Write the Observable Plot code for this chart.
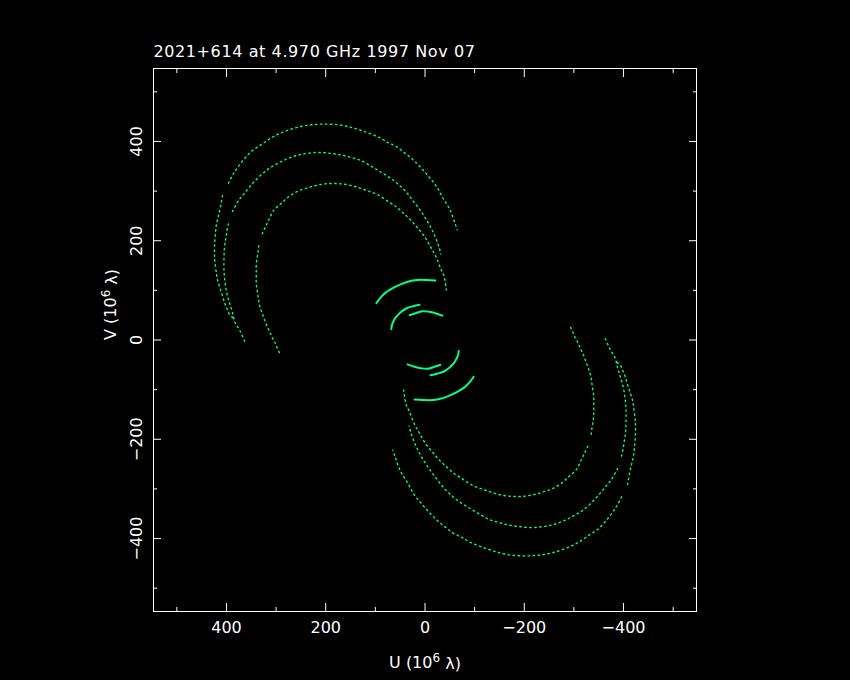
<!DOCTYPE html>
<html><head><meta charset="utf-8">
<script src="https://cdn.jsdelivr.net/npm/d3@7"></script>
<script src="https://cdn.jsdelivr.net/npm/@observablehq/plot@0.6"></script>
<style>
html,body{margin:0;padding:0;background:#000;}
#chart{width:850px;height:680px;}
</style></head><body><div id="chart"></div>
<script>
const title = "2021+614 at 4.970 GHz 1997 Nov 07";
const xLabel = "U (10\u2076 \u03bb)";
const yLabel = "V (10\u2076 \u03bb)";
const majorTicks = [-400, -200, 0, 200, 400];
const minorTicks = [-500, -300, -100, 100, 300, 500];
const axisLimit = 547;

// uv tracks (10^6 wavelengths), one half; the conjugate half is (-u, -v)
const arcOuterU = [396, 386, 372, 352, 328, 305, 278, 251, 224, 197, 170, 144, 117, 90, 75, 58, 41, 25, 9, -6, -22, -35, -50, -60, -65];
const arcOuterV = [316, 335, 355, 378, 395, 410, 422, 430, 434, 435, 433, 427, 418, 407, 398, 390, 377, 364, 348, 331, 311, 288, 263, 236, 222];

const arcMiddleU = [388, 375, 365, 345, 318, 298, 278, 258, 238, 214, 191, 170, 150, 130, 110, 90, 68, 51, 36, 23, 8, -6, -18, -28, -32];
const arcMiddleV = [259, 282, 294, 318, 343, 355, 365, 372, 376, 378, 376, 373, 368, 362, 351, 339, 325, 311, 296, 279, 259, 237, 214, 188, 173];

const arcInnerU = [328, 322, 315, 305, 291, 278, 258, 238, 217, 197, 177, 157, 137, 117, 96, 71, 56, 43, 29, 16, 2, -11, -22, -32, -38, -43];
const arcInnerV = [214, 227, 241, 261, 274, 286, 299, 306, 312, 315, 315, 313, 308, 301, 293, 277, 267, 255, 242, 227, 210, 188, 168, 143, 130, 101];

const leftOuterU = [408, 412, 416, 420, 422, 424, 424, 423, 420, 418, 414, 408, 403, 399, 394, 386];
const leftOuterV = [291, 269, 251, 234, 217, 190, 170, 156, 133, 121, 108, 89, 73, 63, 52, 44];

const leftMiddleU = [396, 399, 402, 404, 405, 405, 404, 401, 398, 395, 392, 388, 383, 373, 362];
const leftMiddleV = [234, 220, 200, 187, 163, 140, 126, 103, 89, 79, 69, 56, 36, 19, -6];

const leftInnerU = [335, 336, 338, 340, 340, 340, 340, 338, 336, 334, 330, 325, 320, 314, 308, 301, 297, 291];
const leftInnerV = [190, 180, 167, 153, 140, 126, 113, 99, 86, 73, 59, 46, 32, 19, 5, -8, -18, -30];

const coreOuterU = [98, 90, 80, 66, 49, 33, 16, -4, -21];
const coreOuterV = [74, 85, 95, 104, 112, 118, 121, 121, 120];

const coreMiddleU = [68, 66, 60, 49, 37, 24, 11];
const coreMiddleV = [22, 32, 44, 56, 64, 68, 71];

const coreInnerU = [31, 19, 6, -8, -21, -35];
const coreInnerV = [50, 54, 58, 57, 54, 49];

const tracks = [
  {name: "arcOuter", u: arcOuterU, v: arcOuterV, solid: false},
  {name: "arcMiddle", u: arcMiddleU, v: arcMiddleV, solid: false},
  {name: "arcInner", u: arcInnerU, v: arcInnerV, solid: false},
  {name: "leftOuter", u: leftOuterU, v: leftOuterV, solid: false},
  {name: "leftMiddle", u: leftMiddleU, v: leftMiddleV, solid: false},
  {name: "leftInner", u: leftInnerU, v: leftInnerV, solid: false},
  {name: "coreOuter", u: coreOuterU, v: coreOuterV, solid: true},
  {name: "coreMiddle", u: coreMiddleU, v: coreMiddleV, solid: true},
  {name: "coreInner", u: coreInnerU, v: coreInnerV, solid: true}
];

const rows = [];
for (const t of tracks) {
  for (const s of [1, -1]) {
    t.u.forEach((u, i) => rows.push({u: s * u, v: s * t.v[i], id: t.name + s, solid: t.solid}));
  }
}

const green = "#00ff80";
const tickAxes = [];
for (const [ticks, size] of [[majorTicks, -8], [minorTicks, -4]]) {
  tickAxes.push(Plot.axisX(ticks, {anchor: "bottom", tickSize: size, fill: "none", label: null}));
  tickAxes.push(Plot.axisX(ticks, {anchor: "top", tickSize: size, fill: "none", label: null}));
  tickAxes.push(Plot.axisY(ticks, {anchor: "left", tickSize: size, fill: "none", label: null}));
  tickAxes.push(Plot.axisY(ticks, {anchor: "right", tickSize: size, fill: "none", label: null}));
}

const chart = Plot.plot({
  width: 850, height: 680,
  marginLeft: 153, marginRight: 154, marginTop: 68, marginBottom: 69,
  style: {background: "#000", color: "#fff", fontFamily: "'DejaVu Sans ExtraLight', 'DejaVu Sans'", fontSize: "16px"},
  x: {domain: [axisLimit, -axisLimit]},
  y: {domain: [-axisLimit, axisLimit]},
  marks: [
    Plot.line(rows.filter(d => !d.solid), {x: "u", y: "v", z: "id", curve: "catmull-rom", stroke: green, strokeWidth: 1.4, strokeDasharray: "1.4,3.6"}),
    Plot.line(rows.filter(d => d.solid), {x: "u", y: "v", z: "id", curve: "catmull-rom", stroke: green, strokeWidth: 2}),
    Plot.frame({stroke: "#fff"}),
    ...tickAxes,
    Plot.axisX(majorTicks, {anchor: "bottom", tickSize: 0, tickPadding: 10, label: null, fontSize: 16}),
    Plot.axisY(majorTicks, {anchor: "left", tickSize: 0, tickPadding: 12, tickRotate: -90, label: null, fontSize: 16}),
    Plot.text([xLabel], {text: d => d, frameAnchor: "bottom", dy: 56, lineAnchor: "bottom", fill: "#fff", fontSize: 16}),
    Plot.text([yLabel], {text: d => d, frameAnchor: "left", dx: -38, rotate: -90, lineAnchor: "bottom", fill: "#fff", fontSize: 16}),
    Plot.text([title], {text: d => d, frameAnchor: "top-left", dy: -11.6, lineAnchor: "bottom", textAnchor: "start", fill: "#fff", fontSize: 16})
  ]
});
document.getElementById("chart").appendChild(chart);
const svg = d3.select(chart);
svg.selectAll("text").filter(function() { return this.textContent === title; }).style("letter-spacing", "0.6px");
// render the exponent as a raised, slightly smaller 6
svg.selectAll("text").filter(function() { return this.textContent === xLabel || this.textContent === yLabel; })
  .each(function() {
    const node = d3.select(this);
    const target = node.select("tspan").empty() ? node : node.select("tspan");
    const txt = target.text();
    const [pre, post] = txt.split("\u2076");
    target.text(pre);
    target.append("tspan").attr("font-size", 12).attr("dy", "-0.45em").text("6");
    target.append("tspan").attr("dy", "0.45em").text(post);
  });
</script>
</body></html>
